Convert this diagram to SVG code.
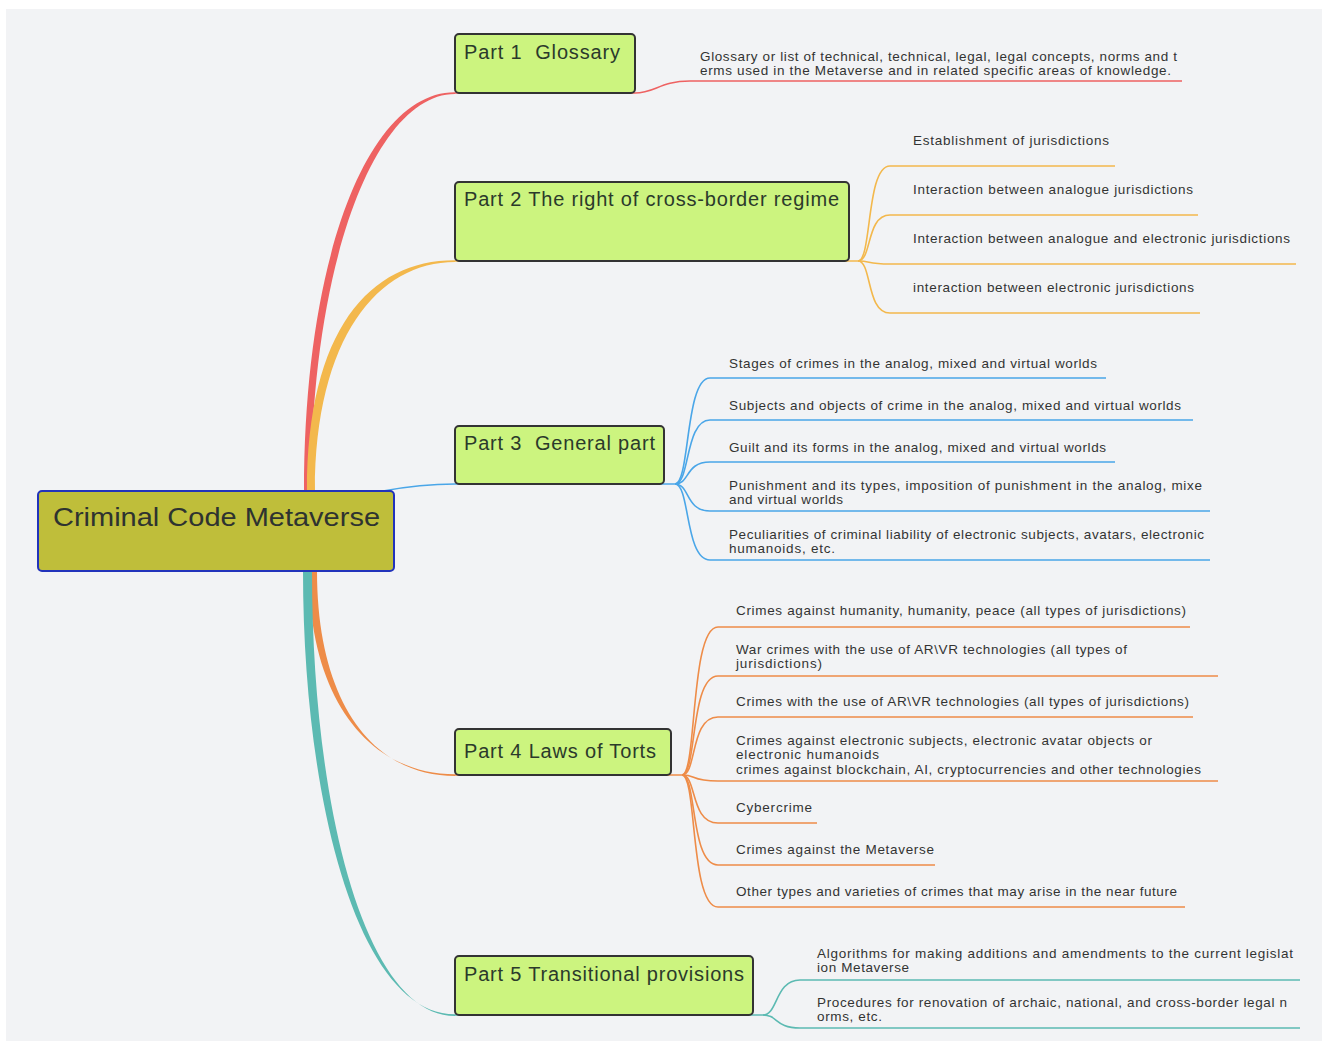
<svg xmlns="http://www.w3.org/2000/svg" width="1322" height="1041" viewBox="0 0 1322 1041">
<style>
.bg{fill:#f2f3f5}
.part rect{fill:#ccf47f;stroke:#333;stroke-width:2}
.part text{font-family:"Liberation Sans",Arial,sans-serif;font-size:20px;fill:#2b3a2b}
.root rect{fill:#bfbe3a;stroke:#2233bb;stroke-width:2}
.root text{font-family:"Liberation Sans",Arial,sans-serif;font-size:25px;fill:#2e3330}
.leaf{font-family:"Liberation Sans",Arial,sans-serif;font-size:13.5px;fill:#333}
.c{fill:none;stroke-width:1.6}
.red{stroke:#ee6262}.yel{stroke:#f3b84c}.blu{stroke:#4aa6e8}.ora{stroke:#ee8c48}.tea{stroke:#5cbab2}
</style>
<rect class="bg" x="6" y="9" width="1316" height="1032"/>
<g id="connectors">
  <!-- main branches -->
  <path d="M304,491 C304,258 368,92 455,92.3 L455,94 C376,94 311,262 311,491 Z" fill="#ee6262"/>
  <path d="M307,491 C307,330 370,260 455,260.3 L455,262 C378,262 315,338 315,491 Z" fill="#f3b84c"/>
  <path d="M383,491 C410,486 430,484 455,484" class="c blu" stroke-width="2"/>
  <path d="M309,571 C309,700 370,774.3 455,774.3 L455,776 C374,776 317,704 317,571 Z" fill="#ee8c48"/>
  <path d="M303,571 C303,800 358,1014.3 455,1014.3 L455,1016 C366,1016 312,810 312,571 Z" fill="#5cbab2"/>
  <!-- Part 1 -->
  <path d="M455,93 L635,93 C655,93 660,81 690,81 L1182,81" class="c red"/>
  <!-- Part 2 -->
  <path d="M455,261 L858,261" class="c yel"/>
  <path d="M858,261 C872,261 866,166 890,166 L1115,166" class="c yel"/>
  <path d="M858,261 C872,261 866,215 890,215 L1198,215" class="c yel"/>
  <path d="M858,261 C872,261 866,264 890,264 L1296,264" class="c yel"/>
  <path d="M858,261 C872,261 866,313 890,313 L1200,313" class="c yel"/>
  <!-- Part 3 -->
  <path d="M455,484 L675,484" class="c blu"/>
  <path d="M675,484 C690,484 685,378 710,378 L1106,378" class="c blu"/>
  <path d="M675,484 C690,484 685,420 710,420 L1193,420" class="c blu"/>
  <path d="M675,484 C690,484 685,462 710,462 L1115,462" class="c blu"/>
  <path d="M675,484 C690,484 685,511 710,511 L1210,511" class="c blu"/>
  <path d="M675,484 C690,484 685,560 710,560 L1210,560" class="c blu"/>
  <!-- Part 4 -->
  <path d="M455,775 L682,775" class="c ora"/>
  <path d="M682,775 C697,775 690,627 718,627 L1190,627" class="c ora"/>
  <path d="M682,775 C697,775 690,676 718,676 L1218,676" class="c ora"/>
  <path d="M682,775 C697,775 690,717 718,717 L1193,717" class="c ora"/>
  <path d="M682,775 C697,775 690,781 718,781 L1218,781" class="c ora"/>
  <path d="M682,775 C697,775 690,823 718,823 L817,823" class="c ora"/>
  <path d="M682,775 C697,775 690,865 718,865 L935,865" class="c ora"/>
  <path d="M682,775 C697,775 690,907 718,907 L1185,907" class="c ora"/>
  <!-- Part 5 -->
  <path d="M455,1015 L763,1015" class="c tea"/>
  <path d="M763,1015 C778,1015 775,980 800,980 L1300,980" class="c tea"/>
  <path d="M763,1015 C778,1015 775,1028 800,1028 L1300,1028" class="c tea"/>
</g>
<g id="root" class="root">
  <rect x="38" y="491" width="356" height="80" rx="4"/>
  <text x="53" y="526" textLength="327" lengthAdjust="spacingAndGlyphs">Criminal Code Metaverse</text>
</g>
<g id="part1" class="part">
  <rect x="455" y="34" width="180" height="59" rx="4"/>
  <text x="464" y="59" textLength="156" xml:space="preserve">Part 1  Glossary</text>
</g>
<g id="part2" class="part">
  <rect x="455" y="182" width="394" height="79" rx="4"/>
  <text x="464" y="206" textLength="375">Part 2 The right of cross-border regime</text>
</g>
<g id="part3" class="part">
  <rect x="455" y="426" width="209" height="58" rx="4"/>
  <text x="464" y="450" textLength="191" xml:space="preserve">Part 3  General part</text>
</g>
<g id="part4" class="part">
  <rect x="455" y="729" width="216" height="46" rx="4"/>
  <text x="464" y="758" textLength="192">Part 4 Laws of Torts</text>
</g>
<g id="part5" class="part">
  <rect x="455" y="956" width="298" height="59" rx="4"/>
  <text x="464" y="981" textLength="280">Part 5 Transitional provisions</text>
</g>
<g id="leaf1">
  <text class="leaf" x="700" y="61" textLength="477">Glossary or list of technical, technical, legal, legal concepts, norms and t</text>
  <text class="leaf" x="700" y="75" textLength="471">erms used in the Metaverse and in related specific areas of knowledge.</text>
</g>
<g id="leaf2-1"><text class="leaf" x="913" y="145" textLength="196">Establishment of jurisdictions</text></g>
<g id="leaf2-2"><text class="leaf" x="913" y="194" textLength="280">Interaction between analogue jurisdictions</text></g>
<g id="leaf2-3"><text class="leaf" x="913" y="243" textLength="377">Interaction between analogue and electronic jurisdictions</text></g>
<g id="leaf2-4"><text class="leaf" x="913" y="292" textLength="281">interaction between electronic jurisdictions</text></g>
<g id="leaf3-1"><text class="leaf" x="729" y="368" textLength="368">Stages of crimes in the analog, mixed and virtual worlds</text></g>
<g id="leaf3-2"><text class="leaf" x="729" y="410" textLength="452">Subjects and objects of crime in the analog, mixed and virtual worlds</text></g>
<g id="leaf3-3"><text class="leaf" x="729" y="452" textLength="377">Guilt and its forms in the analog, mixed and virtual worlds</text></g>
<g id="leaf3-4">
  <text class="leaf" x="729" y="490" textLength="473">Punishment and its types, imposition of punishment in the analog, mixe</text>
  <text class="leaf" x="729" y="504" textLength="114">and virtual worlds</text>
</g>
<g id="leaf3-5">
  <text class="leaf" x="729" y="539" textLength="475">Peculiarities of criminal liability of electronic subjects, avatars, electronic</text>
  <text class="leaf" x="729" y="553" textLength="106">humanoids, etc.</text>
</g>
<g id="leaf4-1"><text class="leaf" x="736" y="615" textLength="450">Crimes against humanity, humanity, peace (all types of jurisdictions)</text></g>
<g id="leaf4-2">
  <text class="leaf" x="736" y="654" textLength="391">War crimes with the use of AR\VR technologies (all types of</text>
  <text class="leaf" x="736" y="668" textLength="86">jurisdictions)</text>
</g>
<g id="leaf4-3"><text class="leaf" x="736" y="706" textLength="453">Crimes with the use of AR\VR technologies (all types of jurisdictions)</text></g>
<g id="leaf4-4">
  <text class="leaf" x="736" y="745" textLength="416">Crimes against electronic subjects, electronic avatar objects or</text>
  <text class="leaf" x="736" y="759" textLength="143">electronic humanoids</text>
  <text class="leaf" x="736" y="774" textLength="465">crimes against blockchain, AI, cryptocurrencies and other technologies</text>
</g>
<g id="leaf4-5"><text class="leaf" x="736" y="812" textLength="76">Cybercrime</text></g>
<g id="leaf4-6"><text class="leaf" x="736" y="854" textLength="198">Crimes against the Metaverse</text></g>
<g id="leaf4-7"><text class="leaf" x="736" y="896" textLength="441">Other types and varieties of crimes that may arise in the near future</text></g>
<g id="leaf5-1">
  <text class="leaf" x="817" y="958" textLength="476">Algorithms for making additions and amendments to the current legislat</text>
  <text class="leaf" x="817" y="972" textLength="92">ion Metaverse</text>
</g>
<g id="leaf5-2">
  <text class="leaf" x="817" y="1007" textLength="470">Procedures for renovation of archaic, national, and cross-border legal n</text>
  <text class="leaf" x="817" y="1021" textLength="65">orms, etc.</text>
</g>
</svg>
